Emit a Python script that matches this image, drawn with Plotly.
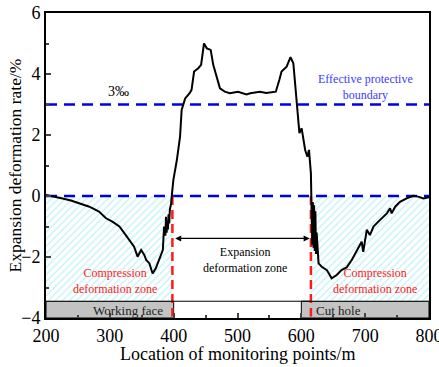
import plotly.graph_objects as go

# ---- data ----
pos = [200, 207, 215, 226, 239, 252, 268, 283, 294, 304, 315, 325, 333, 338, 343.5, 349, 354, 357,
       362, 367, 372, 377, 381, 383, 385, 387, 388, 389, 390, 391, 392, 393, 394, 396, 397.5,
       399.5, 405, 410, 412.5, 418, 425, 428, 432, 438.5, 443, 447.5, 452, 458, 462, 467, 472.5,
       480, 488, 501, 514, 520, 530, 535, 545, 551, 560, 565.5, 569, 577, 583, 587.5, 590, 593,
       597, 600.5, 606, 609.5, 612, 615, 616, 617, 618, 619, 620, 621, 622, 623, 624, 627, 632,
       640, 647.5, 655.5, 663, 671, 679, 687, 694.5, 697, 702.5, 707.5, 713, 723, 734, 739,
       741.5, 747, 754.5, 765, 775.5, 783, 791, 800]
rate = [0.03, 0.0, -0.02, -0.08, -0.15, -0.24, -0.35, -0.51, -0.73, -0.84, -1.0, -1.28, -1.5, -1.66,
        -1.99, -1.77, -1.93, -2.1, -2.21, -2.54, -2.37, -2.1, -1.9, -1.77, -1.0, -1.3, -0.68, -1.2,
        -0.84, -1.1, -0.6, -0.9, -0.45, -0.24, 0.1,
        0.52, 1.18, 1.95, 2.82, 3.2, 3.37, 3.48, 4.08, 4.19, 4.3, 5.0, 4.84, 4.79, 4.3, 3.91, 3.53,
        3.42, 3.37, 3.42, 3.33, 3.37, 3.40, 3.42, 3.38, 3.39, 3.42, 3.8, 4.08, 4.24, 4.55, 4.35, 3.8,
        2.93, 2.06, 2.22, 1.51, 1.29, 1.51, 0.74, -0.1, -1.6, -0.2, -1.7, -0.3, -1.8, -0.5, -1.9,
        -1.2, -2.21, -2.32, -2.43, -2.7, -2.59, -2.43, -2.34, -2.1, -1.77, -1.5, -1.83, -1.11,
        -1.28, -1.0, -0.79, -0.57, -0.4, -0.57, -0.35, -0.19, -0.08, 0.01, -0.02, -0.08, -0.04]

boundary_levels = [3, 0]
zone_edges = [398, 615]
compress_left = [200, 398]
compress_right = [615, 800]
bar_bottom, bar_top = -4, -3.45
working_face = [200, 400]
cut_hole = [600, 800]

x_ticks = [200, 300, 400, 500, 600, 700, 800]
y_ticks = [-4, -2, 0, 2, 4, 6]

SERIF = "Liberation Serif, Times New Roman, serif"

fig = go.Figure()

# hatched compression zones
for x0, x1 in (compress_left, compress_right):
    fig.add_trace(go.Scatter(
        x=[x0, x1, x1, x0, x0], y=[0, 0, bar_top, bar_top, 0],
        mode="lines", line=dict(width=0), fill="toself", fillcolor="rgba(0,0,0,0)",
        fillpattern=dict(shape="/", fgcolor="#7fe6f0", bgcolor="white", size=5, solidity=0.25),
        hoverinfo="skip", showlegend=False))

# blue boundary lines
for lv in boundary_levels:
    fig.add_trace(go.Scatter(x=[200, 800], y=[lv, lv], mode="lines",
                             line=dict(color="#0000e6", width=2.5, dash="11px,7px"),
                             showlegend=False, hoverinfo="skip"))

# red vertical zone lines
for xe in zone_edges:
    fig.add_trace(go.Scatter(x=[xe, xe], y=[0, bar_bottom + 0.05], mode="lines",
                             line=dict(color="#ff1a1a", width=2.5, dash="9px,5px"),
                             showlegend=False, hoverinfo="skip"))

# main curve
fig.add_trace(go.Scatter(x=pos, y=rate, mode="lines", line=dict(color="black", width=2),
                         showlegend=False))

shapes = [
    dict(type="rect", xref="x", yref="y", x0=working_face[0], x1=working_face[1],
         y0=bar_bottom, y1=bar_top, fillcolor="#c3c3c3", line=dict(color="black", width=1), layer="below"),
    dict(type="rect", xref="x", yref="y", x0=cut_hole[0], x1=cut_hole[1],
         y0=bar_bottom, y1=bar_top, fillcolor="#c3c3c3", line=dict(color="black", width=1), layer="below"),
    dict(type="line", xref="x", yref="y", x0=200, x1=800, y0=bar_top, y1=bar_top,
         line=dict(color="black", width=1)),
]

annotations = [
    dict(x=313, y=3.42, text="3‰", showarrow=False, font=dict(family=SERIF, size=14, color="black")),
    dict(x=700, y=3.58, text="Effective protective<br>boundary", showarrow=False,
         font=dict(family=SERIF, size=12, color="#3b3bff")),
    dict(x=308, y=-2.78, text="Compression<br>deformation zone", showarrow=False,
         font=dict(family=SERIF, size=12, color="#ff2020")),
    dict(x=716, y=-2.8, text="Compression<br>deformation zone", showarrow=False,
         font=dict(family=SERIF, size=12, color="#ff2020")),
    dict(x=511, y=-2.1, text="Expansion<br>deformation zone", showarrow=False,
         font=dict(family=SERIF, size=12, color="black")),
    dict(x=613, y=-1.39, ax=400, ay=-1.39, xref="x", yref="y", axref="x", ayref="y",
         text="", showarrow=True, arrowhead=2, arrowside="end+start", arrowsize=1,
         arrowwidth=1.2, arrowcolor="black", startarrowhead=2),
    dict(x=328, y=-3.76, text="Working face", showarrow=False,
         font=dict(family=SERIF, size=13, color="#222")),
    dict(x=658, y=-3.76, text="Cut hole", showarrow=False,
         font=dict(family=SERIF, size=13, color="#222")),
    # axis titles
    dict(x=0.5, y=-0.118, xref="paper", yref="paper", yanchor="middle", xanchor="center",
         text="Location of monitoring points/m", showarrow=False,
         font=dict(family=SERIF, size=18, color="black")),
    dict(x=-0.081, y=0.5, xref="paper", yref="paper", xanchor="center", yanchor="middle",
         text="Expansion deformation rate/%", showarrow=False, textangle=-90,
         font=dict(family=SERIF, size=17.5, color="black")),
]

fig.update_layout(
    width=439, height=367, margin=dict(l=46, r=10, t=13, b=49),
    paper_bgcolor="white", plot_bgcolor="white",
    shapes=shapes, annotations=annotations,
    font=dict(family=SERIF, color="black"),
    xaxis=dict(range=[200, 800], tickvals=x_ticks, ticks="inside", ticklen=5, tickwidth=1.5,
               showline=True, linecolor="black", linewidth=2, mirror=True, showgrid=False,
               zeroline=False, tickfont=dict(family=SERIF, size=18), automargin=False,
               ticklabeloverflow="allow",
               minor=dict(ticks="inside", dtick=50, ticklen=3, tickwidth=1.5)),
    yaxis=dict(range=[-4, 6], tickvals=y_ticks, ticks="inside", ticklen=5, tickwidth=1.5,
               showline=True, linecolor="black", linewidth=2, mirror=True, showgrid=False,
               zeroline=False, tickfont=dict(family=SERIF, size=18), automargin=False,
               minor=dict(ticks="inside", dtick=1, ticklen=3, tickwidth=1.5)),
)

fig.write_html("out.html", config={"displayModeBar": False},
               post_script="document.body.style.margin='0';document.body.style.padding='0';")
